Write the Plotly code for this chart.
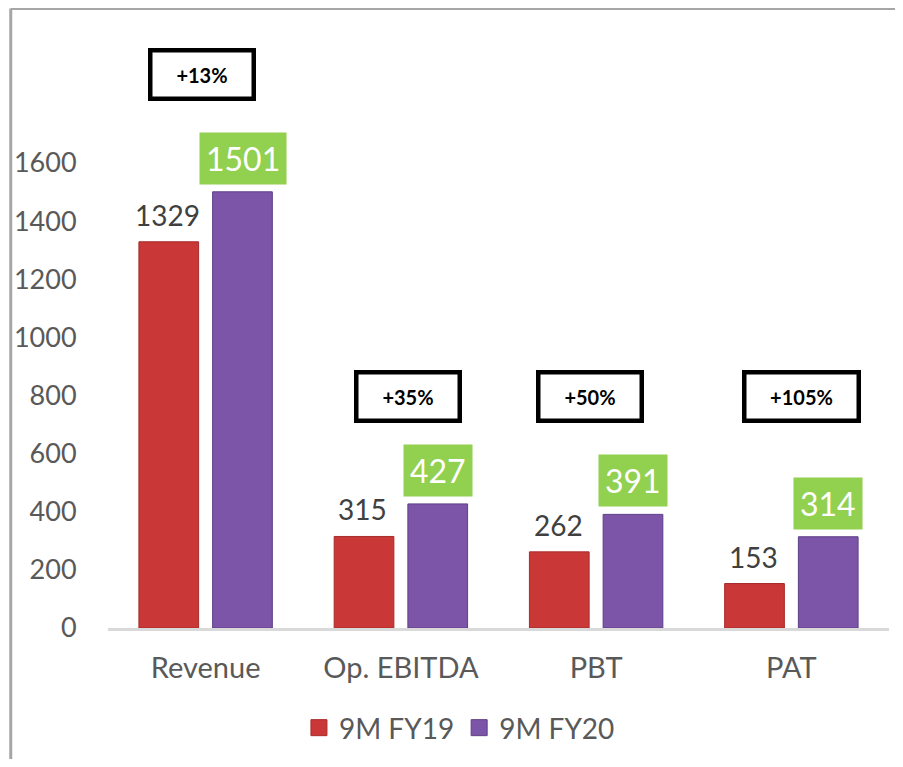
import plotly.graph_objects as go

categories = ["Revenue", "Op. EBITDA", "PBT", "PAT"]
fy19 = [1329, 315, 262, 153]
fy20 = [1501, 427, 391, 314]
growth_labels = ["+13%", "+35%", "+50%", "+105%"]
y_ticks = [0, 200, 400, 600, 800, 1000, 1200, 1400, 1600]

RED = "#C93737"
PURPLE = "#7C55A9"
GREEN = "#92D050"
FONT = "Lato, Carlito, Calibri, sans-serif"

# page body has an 8px margin
W, H = 887, 751
ML, MR, MT, MB = 98, 6, 32, 131
plot_w = W - ML - MR
plot_h = H - MT - MB
ymax = plot_h / 0.2906

fig = go.Figure()
fig.add_trace(go.Bar(
    x=categories, y=fy19, name="9M FY19", showlegend=False,
    marker=dict(color=RED, line=dict(color="#A82A2A", width=1)),
))
fig.add_trace(go.Bar(
    x=categories, y=fy20, name="9M FY20", showlegend=False,
    marker=dict(color=PURPLE, line=dict(color="#5E3F86", width=1)),
))
# legend entries with larger square swatches
fig.add_trace(go.Scatter(
    x=[None], y=[None], mode="markers", name="9M FY19",
    marker=dict(symbol="square", size=18, color=RED, line=dict(color="#A82A2A", width=1)),
))
fig.add_trace(go.Scatter(
    x=[None], y=[None], mode="markers", name="9M FY20",
    marker=dict(symbol="square", size=18, color=PURPLE, line=dict(color="#5E3F86", width=1)),
))

annotations = []
for i, cat in enumerate(categories):
    annotations.append(dict(
        x=cat, y=fy19[i], xref="x", yref="y", text=str(fy19[i]),
        showarrow=False, xshift=-38, yshift=8, yanchor="bottom",
        font=dict(family=FONT, size=28, color="#404040"),
    ))
    annotations.append(dict(
        x=cat, y=fy20[i], xref="x", yref="y", text=str(fy20[i]),
        showarrow=False, xshift=37, yshift=7, yanchor="bottom",
        bgcolor=GREEN, borderpad=6,
        font=dict(family=FONT, size=32, color="white"),
    ))

# growth boxes: (x shift px, y value, width)
box_pos = [(-4, 1906, 95), (7, 795, 95), (-6, 795, 95), (10, 795, 106)]
for i, cat in enumerate(categories):
    xs, yv, bw = box_pos[i]
    annotations.append(dict(
        x=cat, y=yv, xref="x", yref="y", text="<b>" + growth_labels[i] + "</b>",
        showarrow=False, xshift=xs, yanchor="middle", xanchor="center",
        bgcolor="white", bordercolor="black", borderwidth=4.5, borderpad=2,
        width=bw, height=40,
        font=dict(family=FONT, size=20, color="black"),
    ))

x_left = (0.5 - ML) / plot_w
y_top = 1 + (MT - 0.5) / plot_h
fig.update_layout(
    width=W, height=H,
    margin=dict(l=ML, r=MR, t=MT, b=MB),
    paper_bgcolor="white", plot_bgcolor="white",
    barmode="group", bargap=0.245, bargroupgap=0.19,
    font=dict(family=FONT, color="#595959"),
    showlegend=True,
    legend=dict(
        orientation="h", x=0.45, xanchor="center", y=-0.17, yanchor="middle",
        font=dict(family=FONT, size=28, color="#595959"),
        itemwidth=30,
    ),
    annotations=annotations,
    shapes=[
        dict(type="line", xref="paper", yref="paper",
             x0=x_left, x1=1.3, y0=y_top, y1=y_top,
             line=dict(color="#A6A6A6", width=3), layer="below"),
        dict(type="line", xref="paper", yref="paper",
             x0=x_left, x1=x_left, y0=-0.5, y1=y_top,
             line=dict(color="#A6A6A6", width=3), layer="below"),
    ],
)
fig.update_xaxes(
    showline=True, linecolor="#D9D9D9", linewidth=2.5,
    showgrid=False, ticks="outside", ticklen=12, tickcolor="rgba(0,0,0,0)",
    tickfont=dict(family=FONT, size=29, color="#595959"),
)
fig.update_yaxes(
    range=[0, ymax], tickvals=y_ticks, showgrid=False, zeroline=False,
    showline=False, ticks="outside", ticklen=25, tickcolor="rgba(0,0,0,0)",
    tickfont=dict(family=FONT, size=27, color="#595959"),
)

fig.write_html("out.html")
